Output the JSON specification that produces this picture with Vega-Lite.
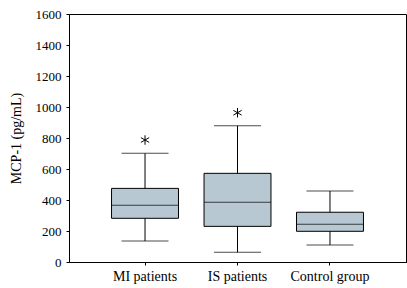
{
  "$schema": "https://vega.github.io/schema/vega-lite/v6.json",
  "width": 337,
  "height": 248,
  "autosize": {"type": "none"},
  "padding": {"left": 69, "top": 14, "right": 1, "bottom": 26},
  "background": "white",
  "config": {
    "view": {"stroke": "black", "strokeWidth": 1},
    "axis": {
      "labelFont": "Liberation Serif",
      "titleFont": "Liberation Serif",
      "labelFontSize": 14,
      "titleFontSize": 14,
      "titleFontWeight": "normal",
      "labelColor": "black",
      "titleColor": "black",
      "domainColor": "black",
      "tickColor": "black",
      "grid": false,
      "tickSize": 3
    }
  },
  "data": {
    "values": [
      {"group": "MI patients", "lower": 135, "q1": 282, "median": 366, "q3": 475, "upper": 701, "star": 787},
      {"group": "IS patients", "lower": 63, "q1": 230, "median": 385, "q3": 572, "upper": 879, "star": 963},
      {"group": "Control group", "lower": 110, "q1": 198, "median": 243, "q3": 321, "upper": 458, "star": null}
    ]
  },
  "encoding": {
    "x": {
      "field": "group",
      "type": "nominal",
      "sort": null,
      "scale": {"paddingInner": 0.276, "paddingOuter": 0.46},
      "axis": {"title": null, "labelAngle": 0, "labelPadding": 4}
    }
  },
  "layer": [
    {
      "mark": {"type": "rule", "color": "black", "strokeWidth": 1},
      "encoding": {
        "y": {"field": "lower", "type": "quantitative", "scale": {"domain": [0, 1600], "nice": false},
          "axis": {"title": "MCP-1 (pg/mL)", "tickCount": 8, "format": "d", "labelOverlap": false, "labelFlush": false, "labelFontSize": 13, "labelPadding": 5, "titlePadding": 12}},
        "y2": {"field": "upper"}
      }
    },
    {
      "mark": {"type": "bar", "fill": "#b8c8d3", "stroke": "black", "strokeWidth": 1},
      "encoding": {
        "y": {"field": "q1", "type": "quantitative"},
        "y2": {"field": "q3"}
      }
    },
    {
      "mark": {"type": "tick", "color": "black", "size": 67, "thickness": 1},
      "encoding": {"y": {"field": "median", "type": "quantitative"}}
    },
    {
      "mark": {"type": "tick", "color": "black", "size": 47, "thickness": 1},
      "encoding": {"y": {"field": "lower", "type": "quantitative"}}
    },
    {
      "mark": {"type": "tick", "color": "black", "size": 47, "thickness": 1},
      "encoding": {"y": {"field": "upper", "type": "quantitative"}}
    },
    {
      "transform": [{"filter": "datum.star != null"}],
      "mark": {"type": "point", "shape": "M0,-1L0,1M-0.87,-0.5L0.87,0.5M-0.87,0.5L0.87,-0.5", "size": 90, "stroke": "black", "strokeWidth": 1, "filled": false, "opacity": 1},
      "encoding": {"y": {"field": "star", "type": "quantitative"}}
    }
  ]
}
